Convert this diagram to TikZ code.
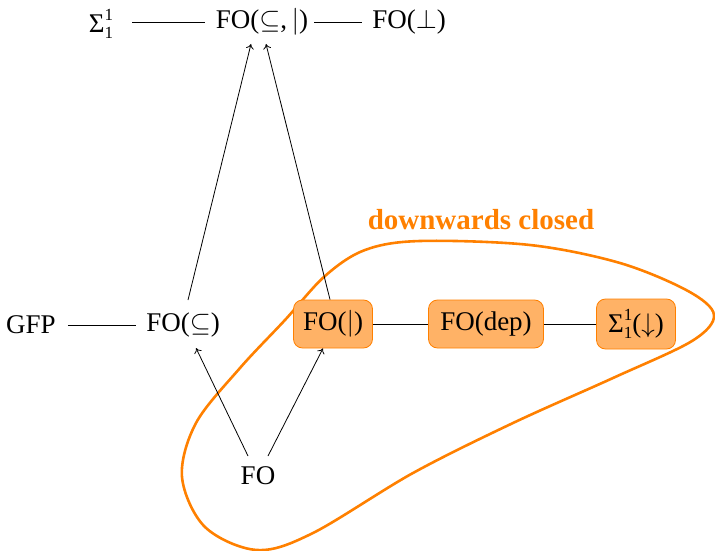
\RequirePackage{fix-cm}
\documentclass[tikz,border=0pt]{standalone}
\usepackage{fontspec}
\setmainfont{Liberation Serif}
\usetikzlibrary{arrows.meta}
\definecolor{orng}{HTML}{FF8000}
\definecolor{boxfill}{HTML}{FFB266}
\newcommand{\sigmaone}{Σ\makebox[0pt][l]{\raisebox{0.42em}{\fontsize{17}{17}\selectfont 1}}\raisebox{-0.22em}{\fontsize{17}{17}\selectfont 1}}
\tikzset{
  lbl/.style={font=\fontsize{27}{32}\selectfont, inner sep=0pt, anchor=center},
  boxed/.style={lbl, draw=orng, line width=0.8pt, fill=boxfill, rounded corners=9pt, inner xsep=8pt, minimum height=48pt},
  edge/.style={line width=0.8pt},
  arr/.style={edge, -{To[length=5pt,width=8pt]}},
}
\begin{document}
\begin{tikzpicture}[x=1pt,y=-1pt]
\useasboundingbox (0,0) rectangle (715,551);
\draw[orng, line width=2.6pt] plot[smooth cycle, tension=0.55] coordinates {
  (420,241) (530,245) (620,263) (688,291) (714,315) (692,341) (613,378)
  (513,423) (413,473) (313,533) (257,550) (205,527) (182,477) (196,423)
  (240,368) (285,320) (325,276) (365,250)};
\node[lbl] (s11) at (101,24) {\sigmaone};
\node[lbl] (fosp) at (262,22) {FO($\subseteq$,\,$|$)};
\node[lbl] (fobot) at (409,22) {FO($\bot$)};
\node[lbl] (gfp) at (31,325) {GFP};
\node[lbl] (fosub) at (183,325) {FO($\subseteq$)};
\node[boxed, minimum width=79pt] (fobar) at (333,324) {FO($|$)};
\node[boxed, minimum width=115pt] (fodep) at (486,324) {FO(dep)};
\node[boxed, minimum width=79pt, minimum height=50pt] (sdown) at (636,324) {\sigmaone($\downarrow$)};
\node[lbl] (fo) at (258,476) {FO};
\node[lbl, font=\fontsize{29}{32}\selectfont\bfseries, text=orng] (dc) at (481,220) {downwards closed};
\draw[edge] (132,22) -- ([xshift=-11pt]fosp.west);
\draw[edge] ([xshift=6pt]fosp.east) -- ([xshift=-10pt]fobot.west);
\draw[edge] ([xshift=12pt]gfp.east) -- ([xshift=-10pt]fosub.west);
\draw[edge] (fobar.east) -- (fodep.west);
\draw[edge] (fodep.east) -- (sdown.west);
\draw[arr] ([xshift=-10pt,yshift=20pt]fo.center) -- ([xshift=13pt,yshift=-23pt]fosub.center);
\draw[arr] ([xshift=10pt,yshift=20pt]fo.center) -- ([xshift=-10pt]fobar.south);
\draw[arr] ([xshift=5pt,yshift=25pt]fosub.center) -- ([xshift=-11pt,yshift=-22pt]fosp.center);
\draw[arr] ([xshift=-3pt]fobar.north) -- ([xshift=4pt,yshift=-22pt]fosp.center);
\end{tikzpicture}
\end{document}
